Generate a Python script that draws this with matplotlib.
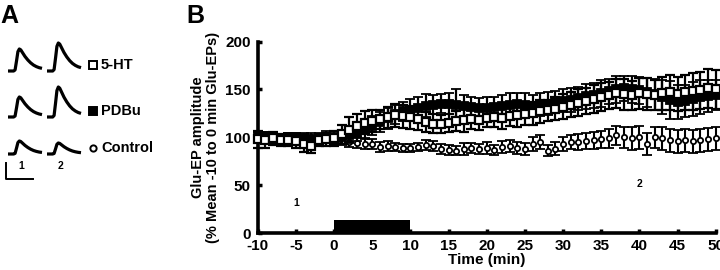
import matplotlib
matplotlib.use('Agg')
import matplotlib.pyplot as plt

plt.rcParams['font.family'] = ['Liberation Sans', 'DejaVu Sans']
plt.rcParams['font.weight'] = 'bold'
plt.rcParams['axes.unicode_minus'] = False

# time points (min)
time = list(range(-10, 51))

# 5-HT (open squares)
ht5 = [98, 97, 99, 97, 97, 96, 93, 91, 97, 98,
       99, 103, 108, 112, 115, 117, 119, 121, 123, 122, 121,
       119, 116, 114, 114, 115, 117, 118, 119, 118, 120,
       121, 120, 122, 123, 124, 125, 127, 128, 130, 132,
       134, 136, 138, 140, 142, 144, 146, 145, 144, 146,
       145, 144, 146, 147, 145, 147, 148, 149, 151, 150]
ht5_err = [9, 8, 7, 6, 6, 7, 8, 7, 6, 7,
           8, 10, 13, 12, 12, 11, 10, 11, 12, 12, 12,
           11, 10, 10, 9, 9, 10, 12, 10, 10, 9,
           10, 11, 10, 12, 11, 12, 12, 11, 12, 13,
           13, 14, 14, 15, 15, 14, 15, 16, 15, 16,
           17, 16, 17, 18, 18, 18, 19, 19, 20, 20]

# PDBu (filled squares)
pdbu = [100, 101, 98, 99, 100, 99, 98, 97, 99, 100,
        98, 100, 102, 105, 108, 112, 116, 120, 124, 127, 129,
        131, 133, 134, 135, 135, 134, 133, 132, 131, 131,
        132, 133, 134, 135, 134, 133, 134, 135, 137, 138,
        139, 141, 143, 144, 146, 148, 150, 151, 150, 149,
        147, 145, 142, 139, 137, 138, 140, 142, 143, 144]
pdbu_err = [6, 5, 5, 4, 5, 5, 6, 5, 5, 5,
            6, 7, 8, 9, 9, 10, 10, 11, 10, 10, 11,
            11, 12, 10, 10, 11, 16, 11, 10, 10, 11,
            10, 11, 12, 11, 12, 11, 12, 12, 11, 12,
            13, 12, 13, 13, 14, 13, 14, 13, 14, 14,
            15, 16, 18, 20, 18, 17, 18, 18, 17, 16]

# Control (open circles)
control = [102, 99, 101, 98, 100, 101, 99, 100, 98, 102,
           97, 96, 95, 94, 93, 93, 90, 91, 90, 89, 89,
           90, 92, 91, 88, 87, 86, 88, 89, 88, 89,
           87, 90, 91, 89, 88, 93, 95, 86, 88, 93,
           95, 95, 96, 97, 98, 99, 102, 100, 99, 100,
           93, 100, 99, 97, 96, 97, 96, 97, 98, 99]
control_err = [5, 4, 4, 4, 4, 4, 4, 4, 4, 5,
               4, 4, 5, 5, 5, 5, 5, 5, 4, 4, 4,
               4, 5, 5, 5, 5, 5, 6, 5, 5, 6,
               5, 6, 6, 6, 6, 7, 7, 6, 7, 7,
               7, 8, 8, 9, 9, 10, 10, 11, 12, 12,
               12, 11, 12, 12, 12, 12, 12, 12, 12, 12]

# drug application bar
stim_start, stim_end, stim_height = 0, 10, 14

# panel A traces
trace_t = [0, 2, 4, 5, 6, 7, 8, 9, 10, 12, 14, 16, 18, 20, 22, 24]
trace_shape = [0, 0, 0, 0.05, 0.45, 0.88, 1.0, 0.96, 0.86, 0.66, 0.5, 0.37, 0.27, 0.2, 0.15, 0.12]
trace_names = ['5-HT', 'PDBu', 'Control']
trace_amp1 = [22, 20, 13]
trace_amp2 = [28, 30, 11]

fig = plt.figure(figsize=(7.2, 2.7), dpi=100)

# ---------------- panel A (drawn in pixel units)
axa = fig.add_axes([0, 0, 0.25, 1])
axa.set_xlim(0, 180)
axa.set_ylim(270, 0)
axa.axis('off')
axa.text(0, 16, 'A', fontsize=18, fontweight='bold', va='center', ha='left')
bases = [71, 117, 154]
markers = [('s', 'white'), ('s', 'black'), ('o', 'white')]
for i in range(3):
    for x0, amp in [(8, trace_amp1[i]), (47, trace_amp2[i])]:
        xs = [x0 + t * 34 / 24 for t in trace_t]
        ys = [bases[i] - amp * s for s in trace_shape]
        axa.plot(xs, ys, color='black', lw=2.3, solid_capstyle='butt')
    mk, fc = markers[i]
    axa.plot([93], [bases[i] - 6], marker=mk, ms=5.5 if mk == 's' else 4.5,
             mfc=fc, mec='black', mew=1.4, ls='none')
    axa.text(101, bases[i] - 6, trace_names[i], fontsize=10.5, fontweight='bold',
             va='center', ha='left')
axa.text(21, 166, '1', fontsize=7.5, fontweight='bold', ha='center', va='center')
axa.text(61, 166, '2', fontsize=7.5, fontweight='bold', ha='center', va='center')
axa.plot([6, 6, 33], [163, 179, 179], color='black', lw=1.4)

# ---------------- panel B
ax = fig.add_axes([0.358, 0.137, 0.636, 0.709])
fig.text(0.259, 0.94, 'B', fontsize=18, fontweight='bold', va='center', ha='left')

ax.bar((stim_start + stim_end) / 2, stim_height, width=stim_end - stim_start,
       color='black', zorder=1)

ax.errorbar(time, control, yerr=control_err, fmt='o', ms=3.8, mfc='white',
            mec='black', mew=1.3, ecolor='black', elinewidth=1.5, capsize=3.5,
            capthick=1.5, zorder=2, clip_on=False)
ax.errorbar(time, pdbu, yerr=pdbu_err, fmt='s', ms=5.3, mfc='black',
            mec='black', mew=1.3, ecolor='black', elinewidth=1.6, capsize=3.5,
            capthick=1.6, zorder=3, clip_on=False)
ax.errorbar(time, ht5, yerr=ht5_err, fmt='s', ms=5.3, mfc='white',
            mec='black', mew=1.6, ecolor='black', elinewidth=1.6, capsize=3.5,
            capthick=1.6, zorder=4, clip_on=False)

ax.text(-5, 31, '1', fontsize=7.5, fontweight='bold', ha='center', va='center')
ax.text(40, 51, '2', fontsize=7.5, fontweight='bold', ha='center', va='center')

ax.set_xlim(-10, 50)
ax.set_ylim(0, 200)
ax.set_xticks(range(-10, 51, 5))
ax.set_yticks(range(0, 201, 50))
for s in ['top', 'right']:
    ax.spines[s].set_visible(False)
for s in ['left', 'bottom']:
    ax.spines[s].set_linewidth(2.6)
ax.tick_params(direction='in', length=3, width=2.5, labelsize=11)
ax.tick_params(axis='x', pad=4)
ax.tick_params(axis='y', pad=5)
for lab in ax.get_xticklabels() + ax.get_yticklabels():
    lab.set_fontweight('bold')
ax.set_xlabel('Time (min)', fontsize=11, fontweight='bold', labelpad=0)
ax.set_ylabel('Glu-EP amplitude\n(% Mean -10 to 0 min Glu-EPs)', fontsize=10.5,
              fontweight='bold', labelpad=4, linespacing=1.1)

fig.savefig('out.png', dpi=100)
